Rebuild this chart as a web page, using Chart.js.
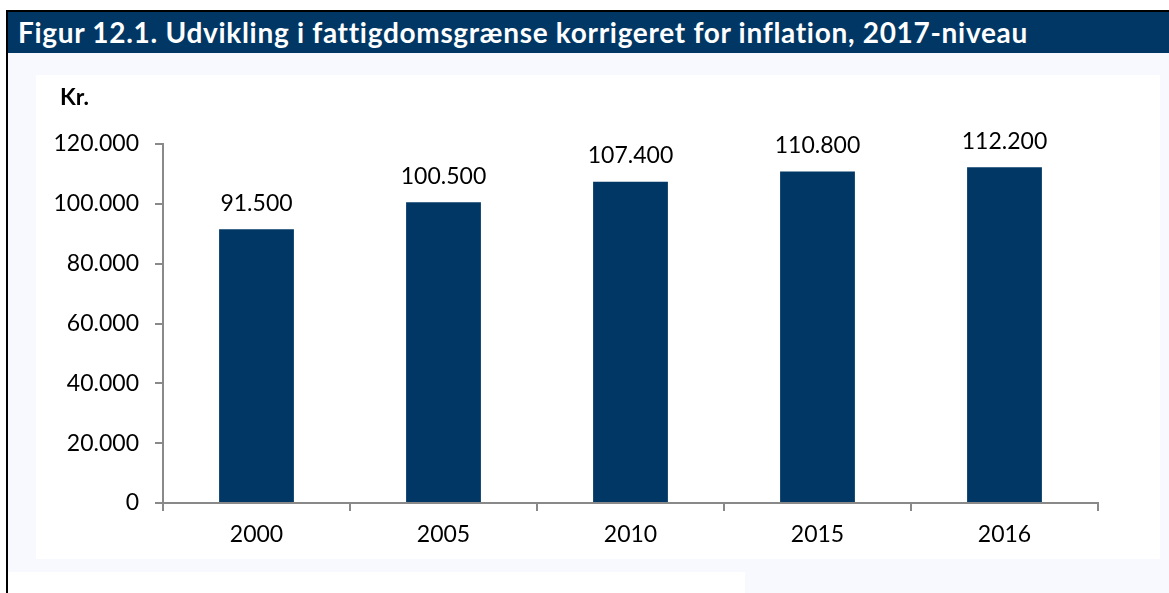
<!DOCTYPE html>
<html>
<head>
<meta charset="utf-8">
<script src="https://cdn.jsdelivr.net/npm/chart.js@4"></script>
<style>
    body { margin: 0; background: #ffffff; width: 1169px; height: 593px; position: relative; overflow: hidden; font-family: Lato, sans-serif; }
    .topline { position: absolute; left: 6px; top: 10px; width: 1163px; height: 2px; background: #000; }
    .leftline { position: absolute; left: 6px; top: 10px; width: 2px; height: 583px; background: #000; }
    .title { position: absolute; left: 8px; top: 12px; width: 1161px; height: 41px; background: #003764; color: #fff;
             font-weight: bold; font-size: 28px; letter-spacing: 0.7px; line-height: 41px; padding-left: 10px; box-sizing: border-box; white-space: nowrap; }
    .bg { position: absolute; left: 8px; top: 53px; width: 1161px; height: 519px; background: #f8f9fe; }
    .bg2 { position: absolute; left: 745px; top: 572px; width: 424px; height: 21px; background: #f8f9fe; }
    .panel { position: absolute; left: 36px; top: 75px; width: 1124px; height: 484px; background: #fff; }
    .unit { position: absolute; left: 60px; top: 82px; font-weight: bold; font-size: 23px; color: #000; }
</style>
</head>
<body>
<div class="topline"></div>
<div class="leftline"></div>
<div class="title">Figur 12.1. Udvikling i fattigdomsgrænse korrigeret for inflation, 2017-niveau</div>
<div class="bg"></div>
<div class="bg2"></div>
<div class="panel"><canvas id="chart" width="1124" height="484"></canvas></div>
<div class="unit">Kr.</div>
<script>
// Data
const years = ['2000', '2005', '2010', '2015', '2016'];
const poverty = [91500, 100500, 107400, 110800, 112200];
const yTicks = [0, 20000, 40000, 60000, 80000, 100000, 120000];

function fmt(v) {
    return v.toString().replace(/\B(?=(\d{3})+(?!\d))/g, '.');
}

// Værdier over søjlerne
const valueLabels = {
    id: 'valueLabels',
    afterDatasetsDraw(chart) {
        const ctx = chart.ctx;
        const meta = chart.getDatasetMeta(0);
        ctx.save();
        ctx.font = '23px Lato';
        ctx.fillStyle = '#000';
        ctx.textAlign = 'center';
        ctx.textBaseline = 'middle';
        meta.data.forEach((bar, i) => {
            ctx.fillText(fmt(poverty[i]), bar.x, bar.y - 26);
        });
        ctx.restore();
    }
};

new Chart(document.getElementById('chart'), {
    type: 'bar',
    data: {
        labels: years,
        datasets: [{
            data: poverty,
            backgroundColor: '#003764',
            barPercentage: 0.4,
            categoryPercentage: 1
        }]
    },
    options: {
        responsive: false,
        animation: false,
        layout: { padding: { top: 69, right: 62, bottom: 0, left: 0 } },
        plugins: { legend: { display: false }, tooltip: { enabled: false } },
        scales: {
            x: {
                grid: { drawOnChartArea: false, tickLength: 8, color: '#898989', lineWidth: 2 },
                border: { color: '#898989', width: 2 },
                ticks: { color: '#000', font: { family: 'Lato', size: 23 }, padding: 10 },
                afterFit(scale) { scale.height = 56; }
            },
            y: {
                min: 0,
                max: 120000,
                afterBuildTicks(scale) { scale.ticks = yTicks.map(v => ({ value: v })); },
                grid: { drawOnChartArea: false, tickLength: 8, color: '#898989', lineWidth: 2 },
                border: { color: '#898989', width: 2 },
                ticks: { color: '#000', font: { family: 'Lato', size: 23 }, padding: 16, callback: v => fmt(v) },
                afterFit(scale) { scale.width = 127; }
            }
        }
    },
    plugins: [valueLabels]
});
</script>
</body>
</html>
